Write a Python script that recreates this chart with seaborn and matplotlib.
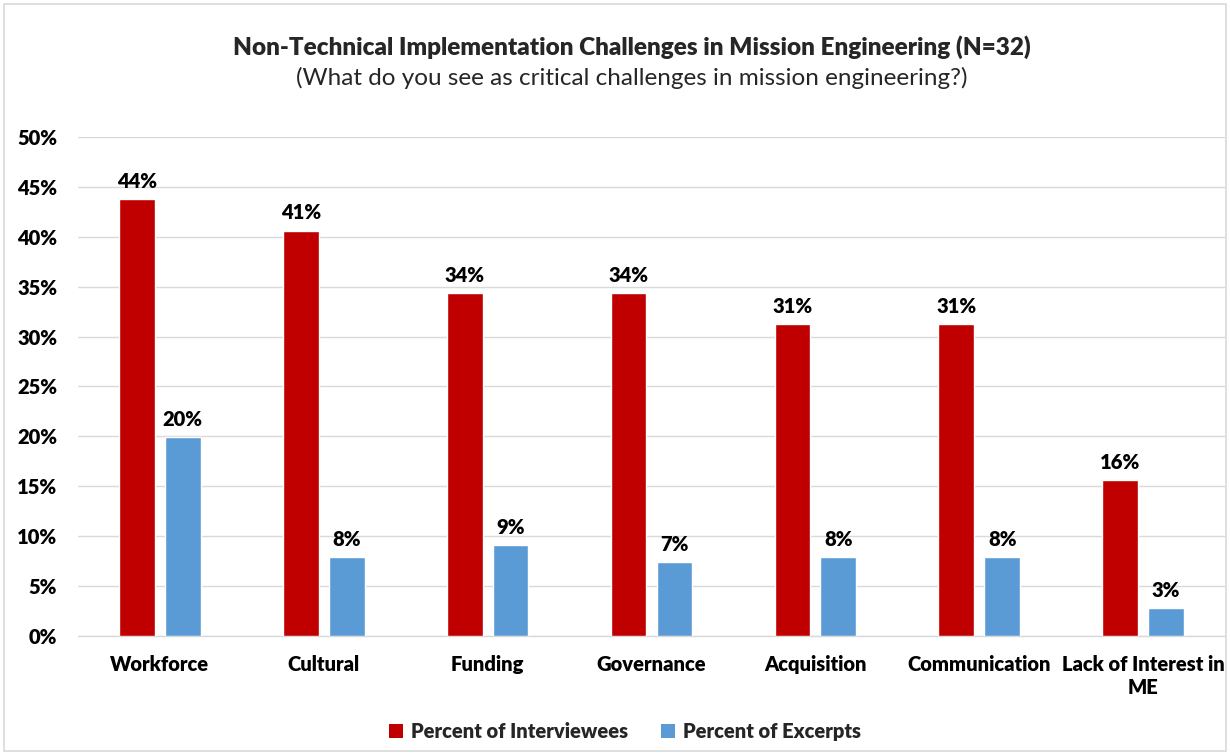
import matplotlib
matplotlib.use("Agg")
import matplotlib.pyplot as plt
from matplotlib.patches import Rectangle, Patch
from matplotlib.ticker import FuncFormatter, MultipleLocator
import seaborn as sns
import pandas as pd

categories = ["Workforce", "Cultural", "Funding", "Governance", "Acquisition",
              "Communication", "Lack of Interest in\nME"]
interviewees = [43.75, 40.625, 34.375, 34.375, 31.25, 31.25, 15.625]
excerpts = [19.9, 7.9, 9.1, 7.4, 7.9, 7.9, 2.8]
series_names = ["Percent of Interviewees", "Percent of Excerpts"]
colors = ["#C00000", "#5B9BD5"]

title = "Non-Technical Implementation Challenges in Mission Engineering (N=32)"
subtitle = "(What do you see as critical challenges in mission engineering?)"

df = pd.DataFrame({
    "Challenge": categories * 2,
    "Percent": interviewees + excerpts,
    "Measure": [series_names[0]] * len(categories) + [series_names[1]] * len(categories),
})

sns.set_style("white")
plt.rcParams["font.family"] = ["Lato", "DejaVu Sans"]
HEAVY = "heavy"
FS = 14.5

fig = plt.figure(figsize=(12.3, 7.53), dpi=100)
ax = fig.add_axes([0.0634, 0.1554, 0.9326, 0.6627])

sns.barplot(data=df, x="Challenge", y="Percent", hue="Measure", palette=colors,
            width=0.56, gap=0.22, saturation=1, ax=ax, legend=False, zorder=3)

ax.set_ylim(0, 50)
ax.set_xlim(-0.5, len(categories) - 0.5)
ax.yaxis.set_major_locator(MultipleLocator(5))
ax.yaxis.set_major_formatter(FuncFormatter(lambda v, _: f"{v:.0f}%"))
ax.grid(axis="y", color="#D9D9D9", linewidth=1.0, zorder=0)
ax.set_axisbelow(True)
for side in ["left", "right", "top"]:
    ax.spines[side].set_visible(False)
ax.spines["bottom"].set_color("#D9D9D9")
ax.spines["bottom"].set_linewidth(1.0)
ax.tick_params(axis="both", length=0, labelsize=FS, colors="black")
ax.tick_params(axis="y", pad=15)
ax.tick_params(axis="x", pad=14)
for lab in ax.get_xticklabels() + ax.get_yticklabels():
    lab.set_fontweight(HEAVY)
for lab in ax.get_yticklabels():
    lab.set_horizontalalignment("right")
ax.set_xlabel("")
ax.set_ylabel("")

for cont, vals in zip(ax.containers, [interviewees, excerpts]):
    ax.bar_label(cont, labels=[f"{v:.0f}%" for v in vals], padding=6,
                 fontsize=FS, fontweight=HEAVY, color="black")

fig.text(0.5135, 0.938, title, ha="center", va="center", fontsize=17.5, fontweight=HEAVY)
fig.text(0.5135, 0.897, subtitle, ha="center", va="center", fontsize=17.5)

handles = [Patch(facecolor=c, edgecolor="none") for c in colors]
fig.legend(handles, series_names, loc="center", bbox_to_anchor=(0.508, 0.029), ncol=2,
           frameon=False, handlelength=0.7, handleheight=0.7, handletextpad=0.4,
           columnspacing=1.6, prop={"weight": HEAVY, "size": FS})

fig.patches.append(Rectangle((0.003, 0.003), 0.994, 0.992, transform=fig.transFigure,
                             fill=False, edgecolor="#D9D9D9", linewidth=1.2))

fig.savefig("out.png", dpi=100)
